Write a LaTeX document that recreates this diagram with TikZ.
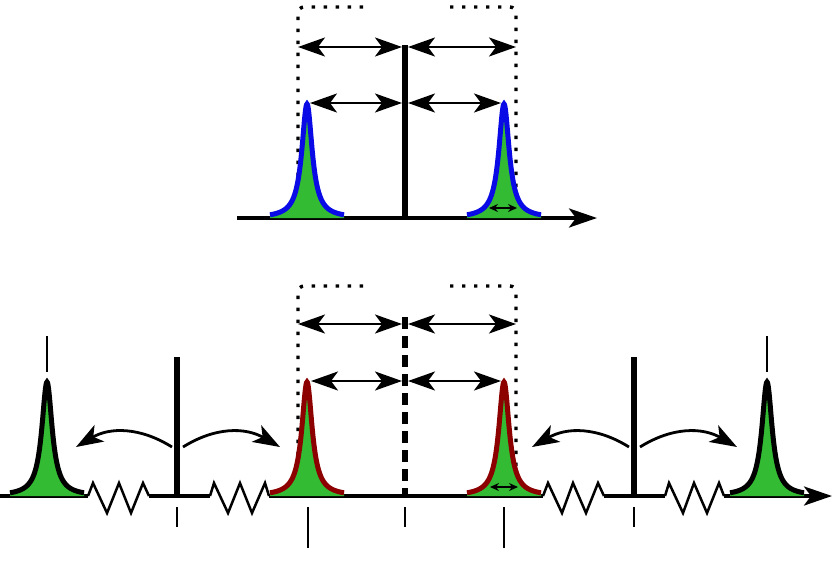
\documentclass[tikz,border=0pt]{standalone}
\usetikzlibrary{arrows.meta}
\definecolor{peakgreen}{RGB}{51,187,51}
\definecolor{peakblue}{RGB}{10,10,230}
\definecolor{peakred}{RGB}{140,0,0}
\newcommand\drawpeak[3]{%
  \fill[peakgreen] plot[domain=-37:37,samples=149] ({#1+\x},{#2-114/(1+(\x/6.3)^2)}) -- (#1+37,#2) -- (#1-37,#2) -- cycle;
  \draw[#3,line width=5pt] plot[domain=-37:37,samples=149] ({#1+\x},{#2-114/(1+(\x/6.3)^2)});
}
\begin{document}
\begin{tikzpicture}[x=1pt,y=-1pt,
  axisline/.style={line width=3.5pt},
  axisarrow/.style={line width=3.5pt,-{Stealth[length=28pt,width=19pt,inset=7pt]}},
  dbl/.style={line width=2.5pt,{Stealth[length=27pt,width=19pt,inset=7pt]}-{Stealth[length=27pt,width=19pt,inset=7pt]}},
  smalldbl/.style={line width=1.8pt,{Stealth[length=9pt,width=8pt,inset=3pt]}-{Stealth[length=9pt,width=8pt,inset=3pt]}},
  curvarrow/.style={line width=2.8pt,-{Stealth[length=27pt,width=19pt,inset=7pt]}},
  bar/.style={line width=5.5pt},
  dashbar/.style={line width=5.5pt,dash pattern=on 12pt off 7pt},
  tick/.style={line width=2.8pt},
  dotline/.style={line width=3.4pt,dash pattern=on 3.4pt off 8.6pt,rounded corners=6pt},
  spring/.style={line width=2.5pt,line join=miter}
]
\useasboundingbox (0,0) rectangle (832,581);

% ---------- top ----------
\coordinate (tA0) at (237,218);
\coordinate (tA1) at (597,218);
\coordinate (tBarT) at (405,45);
\coordinate (tBarB) at (405,218);
\coordinate (tDL) at (298,47);
\coordinate (tBL) at (402,47);
\coordinate (tBR) at (408,47);
\coordinate (tDR) at (516,47);
\coordinate (tPL) at (310,103);
\coordinate (tCL) at (402,103);
\coordinate (tCR) at (408,103);
\coordinate (tPR) at (501,103);
\coordinate (tSL) at (489,208);
\coordinate (tSR) at (517,208);
\coordinate (tDot1a) at (363,7);
\coordinate (tDot1b) at (298,7);
\coordinate (tDot1c) at (298,192);
\coordinate (tDot2a) at (450,7);
\coordinate (tDot2b) at (516,7);
\coordinate (tDot2c) at (516,192);

\draw[dotline] (tDot1a) -- (tDot1b) -- (tDot1c);
\draw[dotline] (tDot2a) -- (tDot2b) -- (tDot2c);
\draw[axisarrow] (tA0) -- (tA1);
\drawpeak{307}{218}{peakblue}
\drawpeak{504}{218}{peakblue}
\draw[bar] (tBarT) -- (tBarB);
\draw[dbl] (tDL) -- (tBL);
\draw[dbl] (tBR) -- (tDR);
\draw[dbl] (tPL) -- (tCL);
\draw[dbl] (tCR) -- (tPR);
\draw[smalldbl] (tSL) -- (tSR);

% ---------- bottom ----------
\coordinate (b0) at (0,496);
\coordinate (s1a) at (88,496);
\coordinate (s1b) at (149,496);
\coordinate (s2a) at (210,496);
\coordinate (s2b) at (269,496);
\coordinate (s3a) at (543,496);
\coordinate (s3b) at (604,496);
\coordinate (s4a) at (665,496);
\coordinate (s4b) at (724,496);
\coordinate (b1) at (832,496);

\coordinate (bDot1a) at (363,286);
\coordinate (bDot1b) at (298,286);
\coordinate (bDot1c) at (298,470);
\coordinate (bDot2a) at (450,286);
\coordinate (bDot2b) at (516,286);
\coordinate (bDot2c) at (516,470);
\draw[dotline] (bDot1a) -- (bDot1b) -- (bDot1c);
\draw[dotline] (bDot2a) -- (bDot2b) -- (bDot2c);

\draw[axisline] (b0) -- (s1a);
\draw[axisline] (s1b) -- (s2a);
\draw[axisline] (s2b) -- (s3a);
\draw[axisline] (s3b) -- (s4a);
\draw[axisarrow] (s4b) -- (b1);

\draw[spring] (s1a) -- (93,483) -- (107,513) -- (119,483) -- (131,513) -- (143,483) -- (s1b);
\draw[spring] (s2a) -- (214,483) -- (228,513) -- (240,483) -- (252,513) -- (265,483) -- (s2b);
\draw[spring] (s3a) -- (548,483) -- (562,513) -- (573,483) -- (586,513) -- (598,483) -- (s3b);
\draw[spring] (s4a) -- (669,483) -- (683,513) -- (694,483) -- (707,513) -- (719,483) -- (s4b);

\drawpeak{47}{496}{black}
\drawpeak{307}{496}{peakred}
\drawpeak{504}{496}{peakred}
\drawpeak{767}{496}{black}

\coordinate (lBarT) at (177,357);
\coordinate (lBarB) at (177,496);
\coordinate (rBarT) at (634,357);
\coordinate (rBarB) at (634,496);
\coordinate (cBarT) at (405,317);
\coordinate (cBarB) at (405,496);
\draw[bar] (lBarT) -- (lBarB);
\draw[bar] (rBarT) -- (rBarB);
\draw[dashbar] (cBarT) -- (cBarB);

\coordinate (bDL) at (298,324);
\coordinate (bBL) at (402,324);
\coordinate (bBR) at (408,324);
\coordinate (bDR) at (516,324);
\coordinate (bPL) at (311,381);
\coordinate (bCL) at (402,381);
\coordinate (bCR) at (408,381);
\coordinate (bPR) at (501,381);
\coordinate (bSL) at (490,487);
\coordinate (bSR) at (518,487);
\draw[dbl] (bDL) -- (bBL);
\draw[dbl] (bBR) -- (bDR);
\draw[dbl] (bPL) -- (bCL);
\draw[dbl] (bCR) -- (bPR);
\draw[smalldbl] (bSL) -- (bSR);

% curved arrows
\coordinate (c1s) at (172,447);
\coordinate (c1e) at (76,447);
\coordinate (c2s) at (183,447);
\coordinate (c2e) at (280,447);
\coordinate (c3s) at (629,447);
\coordinate (c3e) at (532,447);
\coordinate (c4s) at (640,447);
\coordinate (c4e) at (737,447);
\draw[curvarrow] (c1s) .. controls (140,427) and (110,427) .. (c1e);
\draw[curvarrow] (c2s) .. controls (215,427) and (245,427) .. (c2e);
\draw[curvarrow] (c3s) .. controls (597,427) and (567,427) .. (c3e);
\draw[curvarrow] (c4s) .. controls (672,427) and (702,427) .. (c4e);

% ticks
\coordinate (k1a) at (47,336);   \coordinate (k1b) at (47,372);
\coordinate (k2a) at (767,336);  \coordinate (k2b) at (767,372);
\coordinate (k3a) at (177,507);  \coordinate (k3b) at (177,527);
\coordinate (k4a) at (634,507);  \coordinate (k4b) at (634,527);
\coordinate (k5a) at (405,507);  \coordinate (k5b) at (405,527);
\coordinate (k6a) at (308,507);  \coordinate (k6b) at (308,548);
\coordinate (k7a) at (504,507);  \coordinate (k7b) at (504,548);
\foreach \a/\b in {k1a/k1b,k2a/k2b,k3a/k3b,k4a/k4b,k5a/k5b,k6a/k6b,k7a/k7b}
  \draw[tick] (\a) -- (\b);
\end{tikzpicture}
\end{document}
